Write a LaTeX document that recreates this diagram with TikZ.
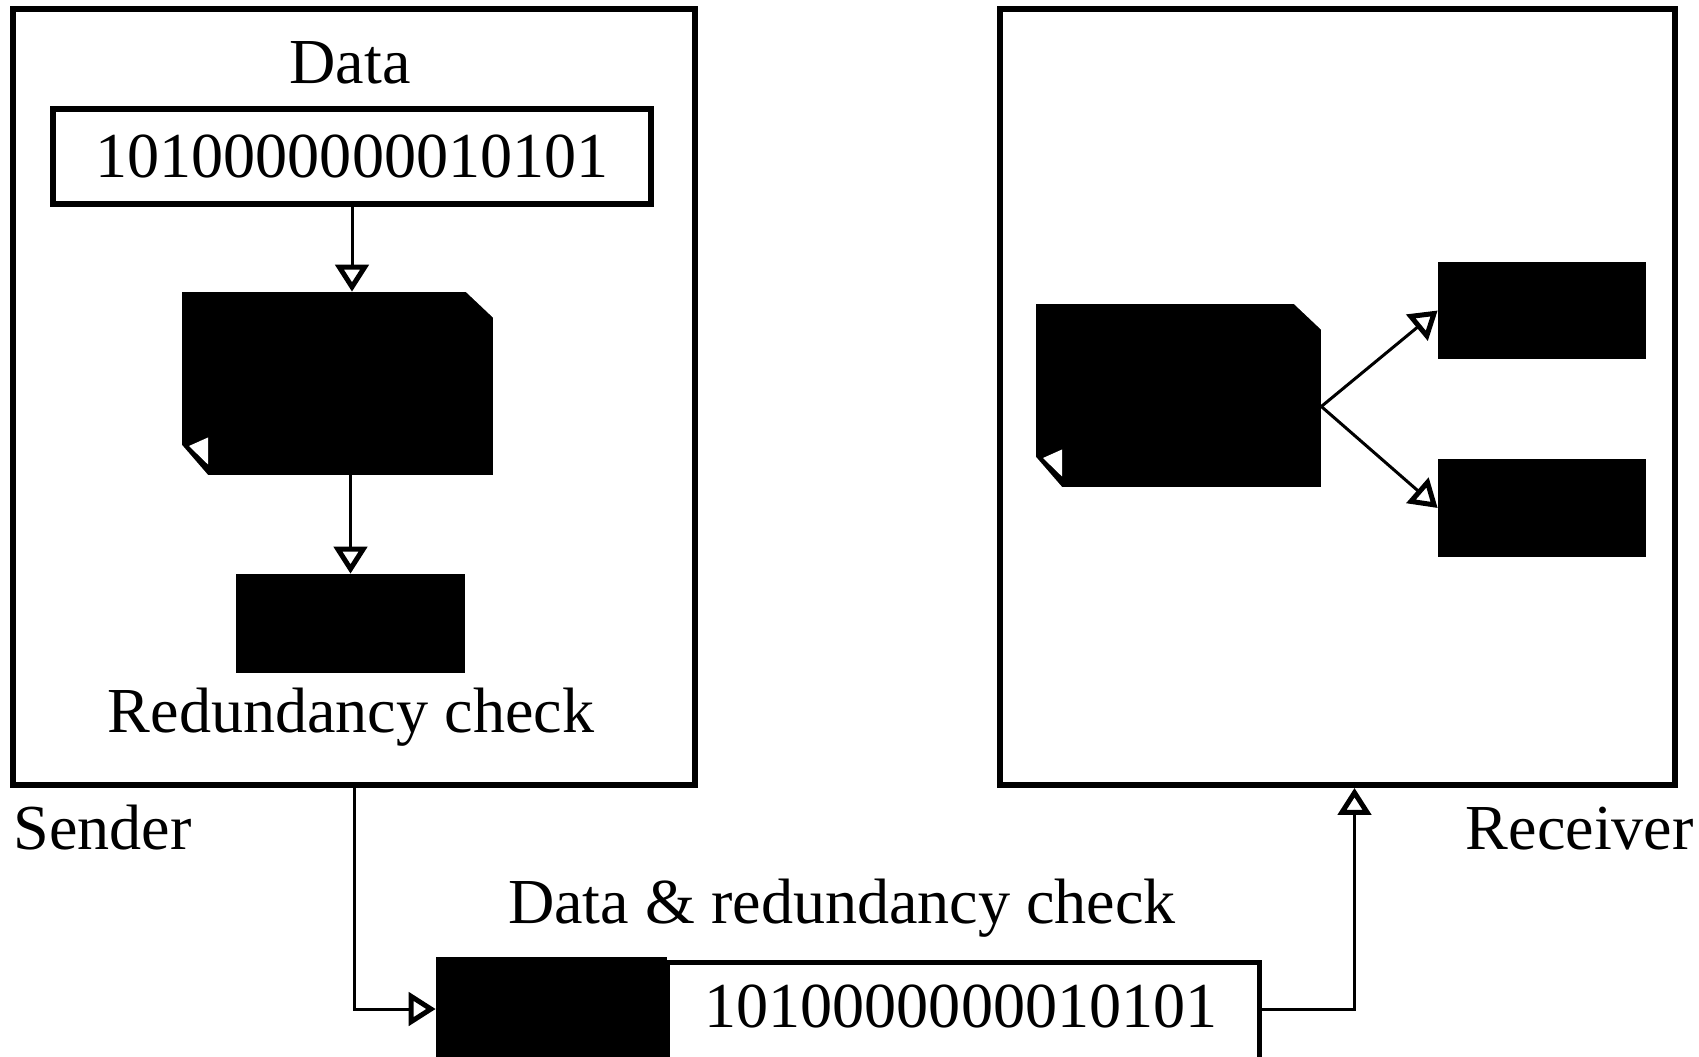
\documentclass[tikz,border=0pt]{standalone}
\usepackage{fontspec}
\setmainfont{Liberation Serif}
\usetikzlibrary{positioning,arrows.meta}

\tikzset{
  unit/.style={draw, line width=0.12cm, inner sep=0},
  blk/.style={fill=black, inner sep=0},
  doc/.style={fill=black, inner sep=0, path picture={
      \fill[white] ([xshift=-0.54cm]path picture bounding box.north east) -- (path picture bounding box.north east)
        -- ([yshift=-0.51cm]path picture bounding box.north east) -- cycle;
      \fill[white] (path picture bounding box.south west) -- ([yshift=0.6cm]path picture bounding box.south west)
        -- ([xshift=0.52cm]path picture bounding box.south west) -- cycle;
      \fill[white] ([shift={(0.14cm,0.58cm)}]path picture bounding box.south west)
        -- ([shift={(0.52cm,0.75cm)}]path picture bounding box.south west)
        -- ([shift={(0.52cm,0.21cm)}]path picture bounding box.south west) -- cycle;
    }},
  flow/.style={line width=0.06cm, -{Triangle[open, length=0.54cm, width=0.66cm, line width=0.1cm]}}
}

\begin{document}
\begin{tikzpicture}[x=0.02cm, y=-0.02cm, every node/.style={font=\fontsize{36.5}{44}\selectfont}]
    \path[use as bounding box, clip] (0,0) rectangle (1699,1057);

    \node [unit, minimum width=13.64cm, minimum height=15.52cm] (sender) at (354,397) {};
    \node [unit, minimum width=13.5cm, minimum height=15.52cm] (receiver) at (1337.5,397) {};

    \node [anchor=base] (datalbl) at (350,84) {Data};
    \node [unit, minimum width=11.96cm, minimum height=1.9cm] (data) at (352,156.5) {1010000000010101};
    \node [doc, minimum width=6.22cm, minimum height=3.66cm] (doc1) at (337.5,383.5) {};
    \node [blk, minimum width=4.58cm, minimum height=1.98cm] (crc) at (350.5,623.5) {};
    \node [anchor=base] (crclbl) at (351,732) {Redundancy check};
    \node [anchor=base west, inner sep=0] (sendlbl) at (13,849) {Sender};
    \node [anchor=base east, inner sep=0] (recvlbl) at (1694,849) {Receiver};

    \node [doc, minimum width=5.7cm, minimum height=3.66cm] (doc2) at (1178.5,395.5) {};
    \node [blk, minimum width=4.16cm, minimum height=1.94cm] (out1) at (1542,310.5) {};
    \node [blk, minimum width=4.16cm, minimum height=1.96cm] (out2) at (1542,508) {};

    \node [anchor=base] (pktlbl) at (842,923) {Data \& redundancy check};
    \node [blk, minimum width=4.62cm, minimum height=2.1cm] (pktcrc) at (551.5,1009) {};
    \node [unit, line width=0.1cm, minimum width=11.86cm, minimum height=2.08cm] (pktdata) at (963.5,1014) {};
    \node [anchor=base] (pkttext) at (961,1027) {1010000000010101};

    \draw [flow] (data.south) -- (data.south |- doc1.north);
    \draw [flow] (crc.north |- doc1.south) -- (crc.north);
    \coordinate (split) at ([yshift=-0.22cm]doc2.east);
    \draw [flow] (split) -- (out1.west);
    \draw [flow] (split) -- (out2.west);
    \draw [flow] (sender.south) |- (pktcrc.west);
    \draw [flow] (pktdata.east |- pktcrc.west) -| ([xshift=0.34cm]receiver.south);
\end{tikzpicture}
\end{document}
